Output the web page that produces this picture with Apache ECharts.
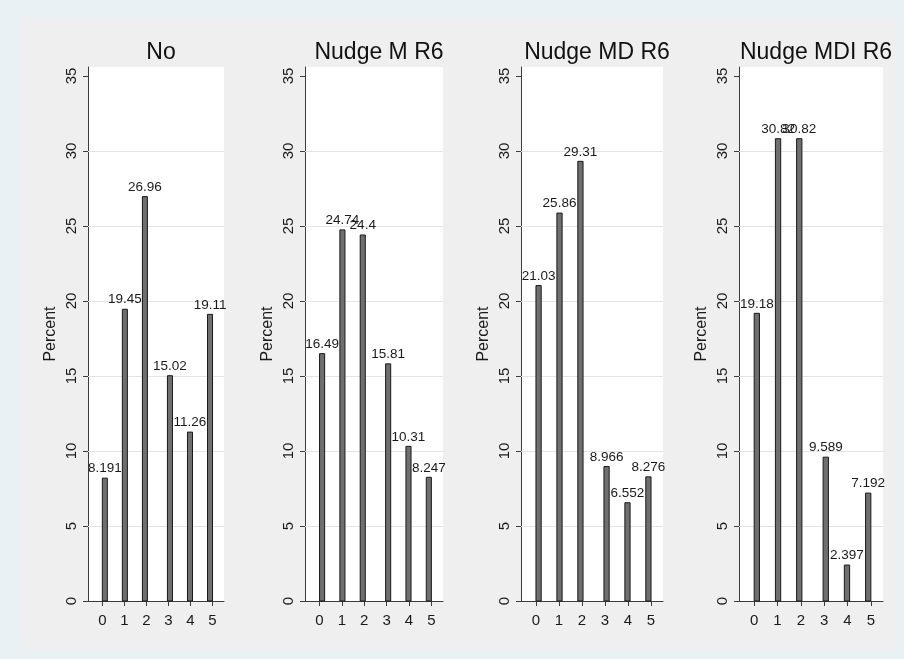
<!DOCTYPE html>
<html>
<head>
<meta charset="utf-8">
<title>Percent by score</title>
<script src="https://cdn.jsdelivr.net/npm/echarts@6/dist/echarts.min.js"></script>
<style>
  html, body { margin: 0; padding: 0; background: #e9f1f4; }
  #chart { width: 904px; height: 659px; }
</style>
</head>
<body>
<div id="chart"></div>
<script>
// Panel titles
const panelTitles = ['No', 'Nudge M R6', 'Nudge MD R6', 'Nudge MDI R6'];

// Histogram bin centres (22 bins over 0–5) holding the scores 0..5
const binCenters = [0.114, 1.023, 1.932, 3.068, 3.977, 4.886];
const binWidth = 5 / 22;

// Percent per score, one array per group
const pctNo = [8.191, 19.45, 26.96, 15.02, 11.26, 19.11];
const pctM = [16.49, 24.74, 24.4, 15.81, 10.31, 8.247];
const pctMD = [21.03, 25.86, 29.31, 8.966, 6.552, 8.276];
const pctMDI = [19.18, 30.82, 30.82, 9.589, 2.397, 7.192];

// Tick labels
const xTicks = [0, 1, 2, 3, 4, 5];
const yTicks = [0, 5, 10, 15, 20, 25, 30, 35];
const gridValues = [5, 10, 15, 20, 25, 30];

const seriesValues = [pctNo, pctM, pctMD, pctMDI];

// Layout of the four plot regions (pixels)
const plotLeft = [88, 305, 521, 739];
const plotRight = [224, 443, 663, 883];
const plotTop = 67;
const plotBottom = 601;

const FONT = "'Liberation Sans', Arial, sans-serif";
const TXT = '#1a1a1a';
const AXIS = '#3c3c3c';

const chart = echarts.init(document.getElementById('chart'), null, { renderer: 'canvas' });

const grids = [], xAxes = [], yAxes = [], titles = [], series = [];

seriesValues.forEach((vals, i) => {
  const left = plotLeft[i], right = plotRight[i];
  grids.push({
    left: left, top: plotTop,
    width: right - left, height: plotBottom - plotTop,
    show: true, backgroundColor: '#ffffff', borderWidth: 0
  });
  titles.push({
    text: panelTitles[i],
    left: (left + right) / 2,
    top: 36,
    textAlign: 'center',
    textStyle: { fontFamily: FONT, fontSize: 23, fontWeight: 'normal', color: '#111' }
  });
  xAxes.push({
    gridIndex: i, type: 'value', min: -0.65, max: 5.52,
    axisLine: { show: true, onZero: false, lineStyle: { color: AXIS, width: 1 } },
    axisTick: { show: true, length: 5, customValues: xTicks, lineStyle: { color: AXIS } },
    axisLabel: { customValues: xTicks, margin: 12, fontFamily: FONT, fontSize: 15, color: TXT },
    splitLine: { show: false }
  });
  yAxes.push({
    gridIndex: i, type: 'value', min: 0, max: 35.6,
    name: 'Percent', nameLocation: 'middle', nameGap: 29,
    nameTextStyle: { fontFamily: FONT, fontSize: 16, color: TXT },
    axisLine: { show: true, onZero: false, lineStyle: { color: AXIS, width: 1 } },
    axisTick: { show: true, length: 5, customValues: yTicks, lineStyle: { color: AXIS } },
    axisLabel: { customValues: yTicks, rotate: 90, margin: 9, fontFamily: FONT, fontSize: 15, color: TXT },
    splitLine: { show: false }
  });
  // light horizontal reference lines behind the bars
  series.push({
    type: 'line', xAxisIndex: i, yAxisIndex: i, data: [], z: 1, silent: true,
    markLine: {
      z: 1, silent: true, symbol: 'none', label: { show: false },
      lineStyle: { color: '#e4e4e4', width: 1, type: 'solid' },
      emphasis: { disabled: true },
      data: gridValues.map(v => ({ yAxis: v }))
    }
  });
  // histogram bars with value labels
  series.push({
    type: 'custom', xAxisIndex: i, yAxisIndex: i, z: 3,
    data: binCenters.map((c, k) => [c, vals[k]]),
    renderItem: function (params, api) {
      const x = api.value(0), y = api.value(1);
      const p0 = api.coord([x - binWidth / 2, y]);
      const p1 = api.coord([x + binWidth / 2, 0]);
      return {
        type: 'rect',
        shape: { x: p0[0], y: p0[1], width: p1[0] - p0[0], height: p1[1] - p0[1] },
        style: { fill: '#6f6f6f', stroke: '#1a1a1a', lineWidth: 1 },
        textContent: {
          z: 10,
          style: { text: String(y), fontFamily: FONT, fontSize: 13.5, fill: TXT }
        },
        textConfig: { position: 'top', distance: 2 }
      };
    }
  });
});

chart.setOption({
  backgroundColor: '#e9f1f4',
  animation: false,
  graphic: [{
    type: 'rect', z: -1, silent: true,
    shape: { x: 22, y: 18, width: 875, height: 632 },
    style: { fill: '#efefef' }
  }],
  title: titles,
  grid: grids,
  xAxis: xAxes,
  yAxis: yAxes,
  series: series
});
</script>
</body>
</html>
